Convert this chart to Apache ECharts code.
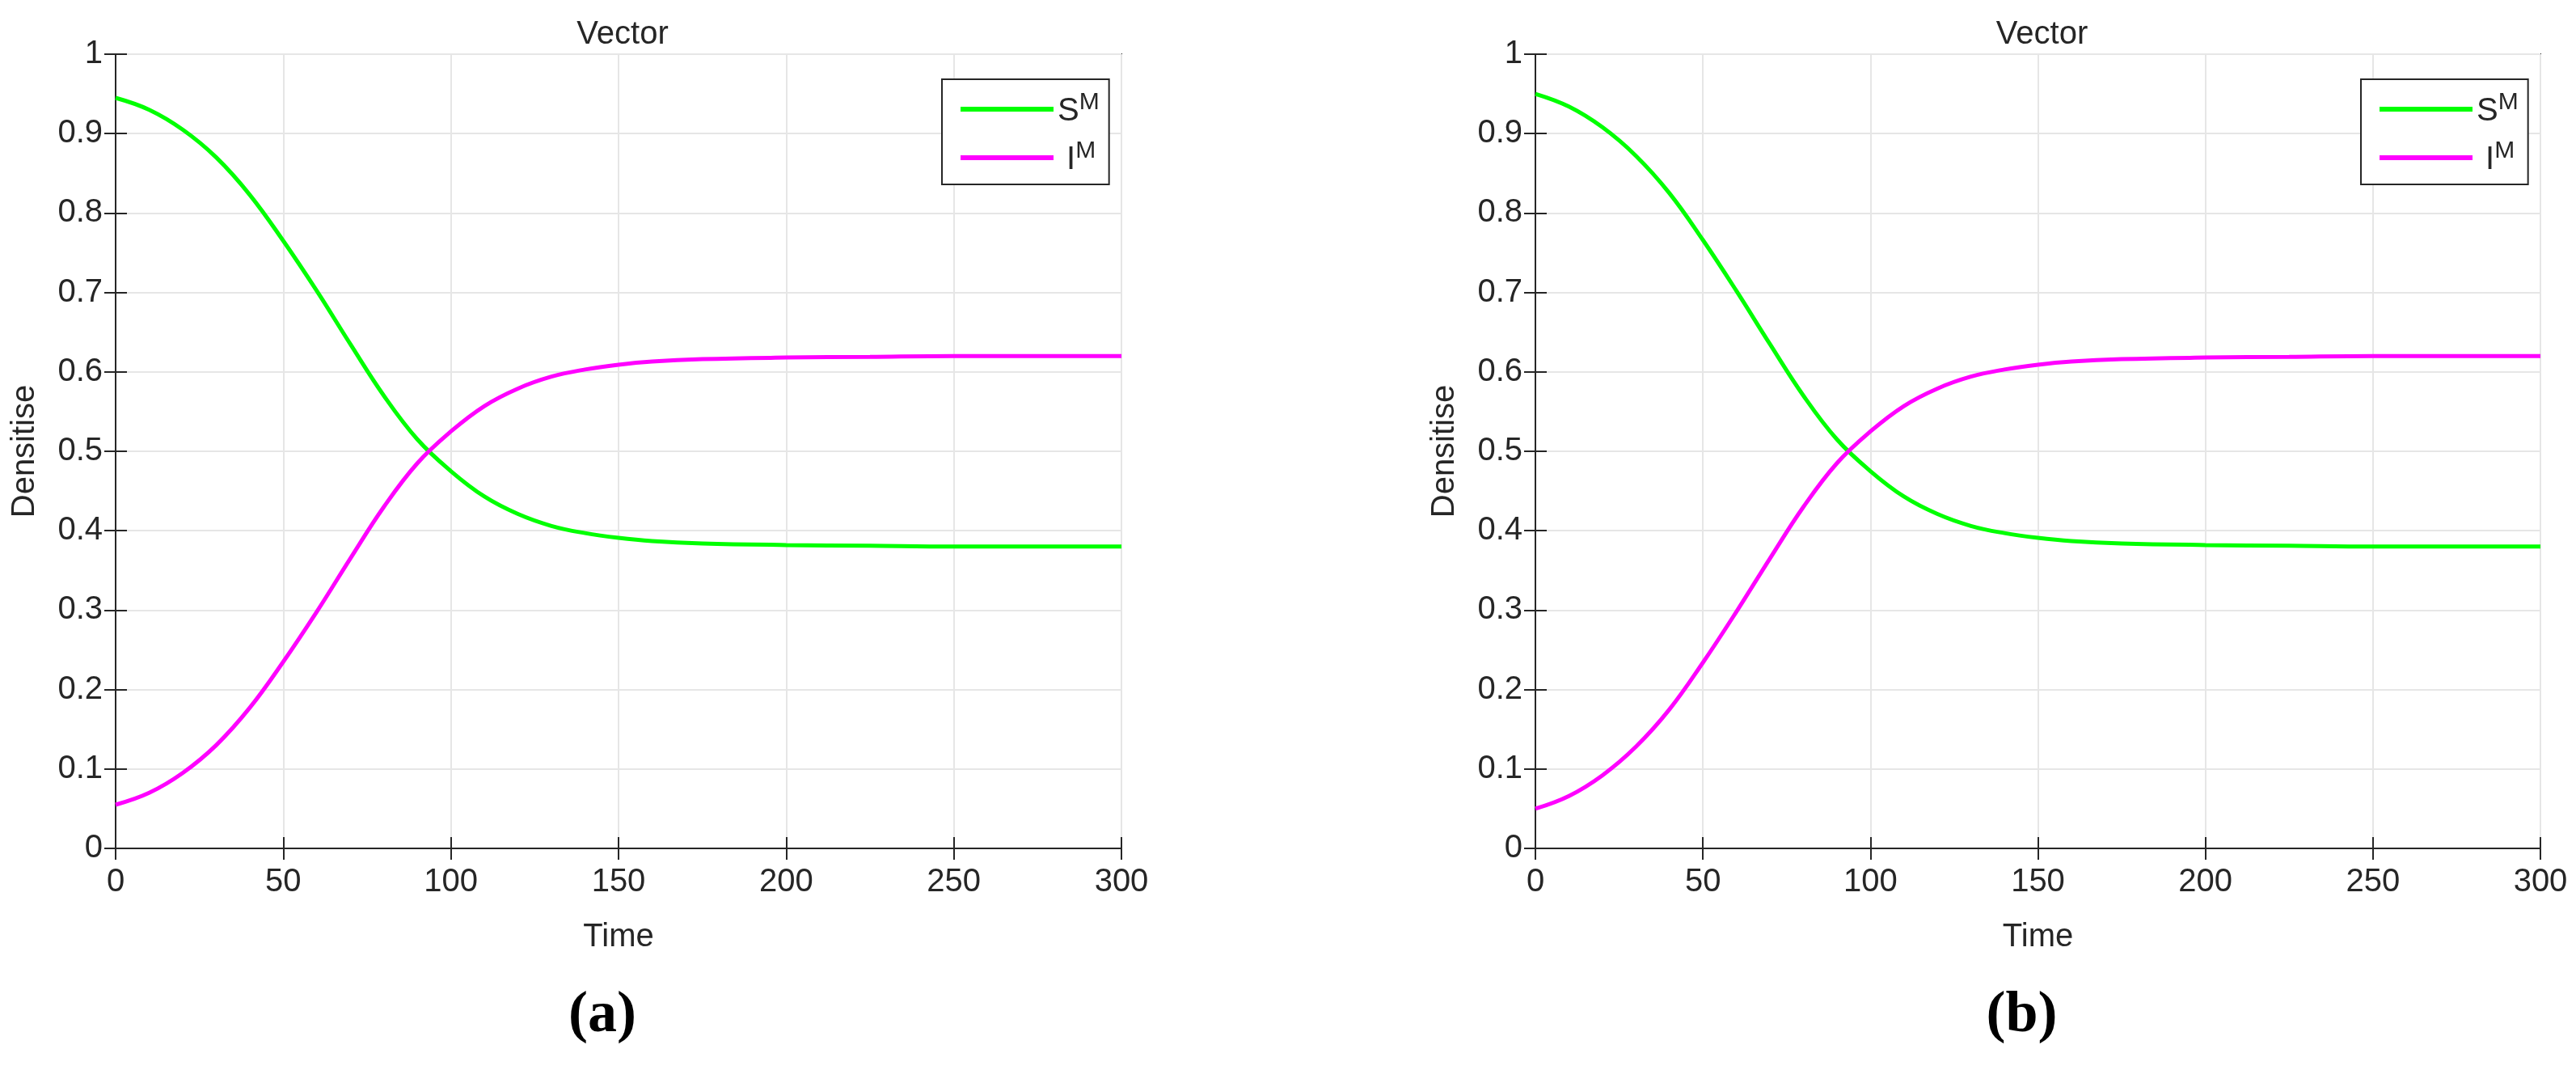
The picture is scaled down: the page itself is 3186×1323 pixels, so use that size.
<!DOCTYPE html>
<html><head><meta charset="utf-8">
<script src="https://cdn.jsdelivr.net/npm/echarts@6/dist/echarts.min.js"></script>
<style>html,body{margin:0;padding:0;background:#fff}#c{width:3186px;height:1323px}</style>
</head><body><div id="c"></div>
<script>
const time = [0,10,20,30,40,50,60,70,80,90,100,110,120,130,140,150,160,175,200,225,250,275,300];
const sA = [0.945,0.930,0.905,0.870,0.823,0.765,0.702,0.635,0.570,0.515,0.475,0.443,0.421,0.406,0.397,0.391,0.387,0.384,0.382,0.381,0.380,0.380,0.380];
const iA = [0.055,0.070,0.095,0.130,0.177,0.235,0.298,0.365,0.430,0.485,0.525,0.557,0.579,0.594,0.603,0.609,0.613,0.616,0.618,0.619,0.620,0.620,0.620];
const sB = [0.950,0.934,0.908,0.872,0.825,0.766,0.702,0.635,0.570,0.515,0.475,0.443,0.421,0.406,0.397,0.391,0.387,0.384,0.382,0.381,0.380,0.380,0.380];
const iB = [0.050,0.066,0.092,0.128,0.175,0.234,0.298,0.365,0.430,0.485,0.525,0.557,0.579,0.594,0.603,0.609,0.613,0.616,0.618,0.619,0.620,0.620,0.620];
const xTicks = [0,50,100,150,200,250,300];
const yTicks = [0,0.1,0.2,0.3,0.4,0.5,0.6,0.7,0.8,0.9,1];
const panels = [{s:sA,i:iA,label:'(a)'},{s:sB,i:iB,label:'(b)'}];

const grids = [{left:143,top:67,width:1244,height:982},{left:1899,top:67,width:1243,height:982}];
const F = 'Liberation Sans, Arial, sans-serif';
const ax = '#262626';
const opt = {animation:false, grid:[], xAxis:[], yAxis:[], series:[], title:[], legend:[]};
grids.forEach((g,k)=>{
  opt.grid.push(Object.assign({show:true,borderColor:ax,borderWidth:2,containLabel:false},g));
  const base = {type:'value',min:0,max:300,interval:50,gridIndex:k};
  opt.xAxis.push(Object.assign({},base,{position:'bottom',name:'Time',nameLocation:'middle',nameGap:90,
    nameTextStyle:{fontFamily:F,fontSize:40,color:ax},
    axisLine:{lineStyle:{color:ax,width:2}},axisTick:{inside:true,length:14,lineStyle:{color:ax,width:2}},
    axisLabel:{fontFamily:F,fontSize:40,color:ax,margin:22},splitLine:{show:true,lineStyle:{color:'#e6e6e6',width:2}}}));
  opt.xAxis.push(Object.assign({},base,{position:'top',axisLine:{show:false},axisTick:{inside:true,length:14,lineStyle:{color:ax,width:2}},
    axisLabel:{show:false},splitLine:{show:false}}));
  const yb = {type:'value',min:0,max:1,interval:0.1,gridIndex:k};
  opt.yAxis.push(Object.assign({},yb,{position:'left',name:'Densitise',nameLocation:'middle',nameGap:92,
    nameTextStyle:{fontFamily:F,fontSize:40,color:ax},
    axisLine:{lineStyle:{color:ax,width:2}},axisTick:{inside:true,length:14,lineStyle:{color:ax,width:2}},
    axisLabel:{fontFamily:F,fontSize:40,color:ax,margin:16,formatter:v=>String(+v.toFixed(1))},
    splitLine:{show:true,lineStyle:{color:'#e6e6e6',width:2}}}));
  opt.yAxis.push(Object.assign({},yb,{position:'right',axisLine:{show:false},axisTick:{inside:true,length:14,lineStyle:{color:ax,width:2}},
    axisLabel:{show:false},splitLine:{show:false}}));
  const p = panels[k];
  opt.series.push({name:'S'+k,type:'line',smooth:0.4,symbol:'none',xAxisIndex:2*k,yAxisIndex:2*k,
    data:time.map((t,j)=>[t,p.s[j]]),lineStyle:{color:'#00ff00',width:5},itemStyle:{color:'#00ff00'}});
  opt.series.push({name:'I'+k,type:'line',smooth:0.4,symbol:'none',xAxisIndex:2*k,yAxisIndex:2*k,
    data:time.map((t,j)=>[t,p.i[j]]),lineStyle:{color:'#ff00ff',width:5},itemStyle:{color:'#ff00ff'}});
  opt.title.push({text:'Vector',left:g.left+g.width/2,top:18,textAlign:'center',
    textStyle:{fontFamily:F,fontSize:40,fontWeight:'normal',color:ax}});
  opt.title.push({text:p.label,left:g.left+g.width/2-25,top:1215,textAlign:'center',
    textStyle:{fontFamily:'Liberation Serif, serif',fontSize:72,fontWeight:'bold',color:'#000'}});
  opt.legend.push({data:['S'+k,'I'+k],orient:'vertical',left:g.left+g.width-222,top:98,
    width:192,padding:[14,12,10,20],itemGap:14,itemWidth:115,itemHeight:6,
    lineStyle:{width:6},
    borderColor:ax,borderWidth:2,backgroundColor:'#fff',
    formatter:n=>n[0]==='S'?'{b|S}{s|M}':'{b| I}{s|M}',
    textStyle:{rich:{b:{fontFamily:F,fontSize:40,color:ax,verticalAlign:'bottom',lineHeight:46},
      s:{fontFamily:F,fontSize:30,color:ax,verticalAlign:'top',lineHeight:46}}}});
});
echarts.init(document.getElementById('c')).setOption(opt);
</script></body></html>
